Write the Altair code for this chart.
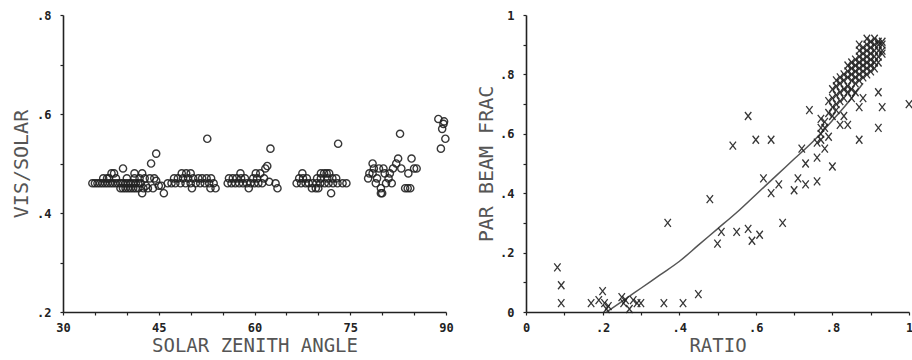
import altair as alt
import pandas as pd

# ---------------- Left panel: VIS/SOLAR vs SOLAR ZENITH ANGLE ----------------
sza = [
    # cluster 1
    34.6, 35.0, 35.4, 35.8, 36.2, 36.6, 37.0, 37.4, 37.8, 38.2, 38.6, 39.0, 39.4, 39.8, 40.2, 40.6, 41.0, 41.4, 41.8, 42.2,
    39.0, 39.4, 39.8, 40.2, 40.6, 41.0, 41.4, 41.8, 42.6, 44.1, 43.3,
    36.3, 36.9, 37.2, 38.3, 40.0, 41.2, 42.0, 42.8, 43.6, 44.3,
    37.6, 38.0, 41.2, 42.4,
    39.4, 43.8, 44.6, 42.4, 45.8, 43.0, 45.0, 45.4, 44.6,
    # cluster 2
    46.4, 47.0, 47.6, 48.4, 49.2, 50.0, 50.8, 51.5, 52.2, 52.9, 53.6,
    47.4, 48.0, 48.8, 49.6, 50.4, 51.2, 51.8, 52.5, 53.2,
    48.6, 49.3, 50.0,
    50.2, 53.1, 53.9, 52.6,
    # cluster 3
    55.8, 56.4, 57.0, 57.6, 58.2, 58.8, 59.4, 60.0, 60.6, 61.2,
    56.0, 56.6, 57.2, 57.9, 58.5, 59.8, 60.4, 61.5,
    57.8, 60.2, 60.9, 61.7,
    59.1, 63.6, 62.0, 62.3, 63.3, 62.5,
    # cluster 4
    66.6, 67.3, 68.0, 68.5, 69.1, 69.7, 70.3, 71.0, 71.6, 72.3, 73.0, 73.8, 74.4,
    67.0, 67.6, 68.2, 69.8, 70.4, 71.4, 72.2, 72.8,
    67.5, 70.4, 70.9, 71.3, 71.7,
    69.0, 69.6, 70.0, 72.0, 73.1,
    # cluster 5
    77.8, 78.0, 78.5, 78.5, 79.0, 79.2, 79.5, 79.8, 79.8, 80.0, 80.4, 80.6, 81.0, 81.2, 81.7,
    82.2, 82.5, 83.0, 83.6, 84.0, 84.4, 84.1, 84.6, 85.4, 85.0, 82.8, 78.7, 80.2, 81.5,
    # cluster 6
    88.8, 89.6, 89.4, 89.9, 89.2, 89.7,
]
vis = [
    0.46, 0.46, 0.46, 0.46, 0.46, 0.46, 0.46, 0.46, 0.46, 0.46, 0.46, 0.46, 0.46, 0.46, 0.46, 0.46, 0.46, 0.46, 0.46, 0.46,
    0.45, 0.45, 0.45, 0.45, 0.45, 0.45, 0.45, 0.45, 0.45, 0.45, 0.45,
    0.47, 0.47, 0.47, 0.47, 0.47, 0.47, 0.47, 0.47, 0.47, 0.47,
    0.48, 0.48, 0.48, 0.48,
    0.49, 0.50, 0.52, 0.44, 0.44, 0.455, 0.455, 0.455, 0.465,
    0.46, 0.46, 0.46, 0.46, 0.46, 0.46, 0.46, 0.46, 0.46, 0.46, 0.46,
    0.47, 0.47, 0.47, 0.47, 0.47, 0.47, 0.47, 0.47, 0.47,
    0.48, 0.48, 0.48,
    0.45, 0.45, 0.45, 0.55,
    0.46, 0.46, 0.46, 0.46, 0.46, 0.46, 0.46, 0.46, 0.46, 0.46,
    0.47, 0.47, 0.47, 0.47, 0.47, 0.47, 0.47, 0.47,
    0.48, 0.48, 0.48, 0.49,
    0.45, 0.45, 0.495, 0.463, 0.46, 0.53,
    0.46, 0.46, 0.46, 0.46, 0.46, 0.46, 0.46, 0.46, 0.46, 0.46, 0.46, 0.46, 0.46,
    0.47, 0.47, 0.47, 0.47, 0.47, 0.47, 0.47, 0.47,
    0.48, 0.48, 0.48, 0.48, 0.48,
    0.45, 0.45, 0.45, 0.44, 0.54,
    0.47, 0.48, 0.50, 0.48, 0.46, 0.47, 0.49, 0.45, 0.44, 0.44, 0.48, 0.46, 0.47, 0.48, 0.49,
    0.50, 0.51, 0.49, 0.45, 0.45, 0.45, 0.48, 0.51, 0.49, 0.49, 0.56, 0.49, 0.49, 0.46,
    0.59, 0.58, 0.57, 0.55, 0.53, 0.585,
]

# ---------------- Right panel: PAR BEAM FRAC vs RATIO ----------------
ratio = [
    0.082, 0.092, 0.092, 0.17, 0.19, 0.20, 0.205, 0.21, 0.215, 0.25, 0.255, 0.26, 0.27, 0.28, 0.29, 0.30,
    0.36, 0.37, 0.41, 0.45, 0.48, 0.50, 0.51, 0.54, 0.55, 0.58, 0.58, 0.59, 0.60, 0.61, 0.62, 0.64, 0.64,
    0.66, 0.67, 0.70, 0.71, 0.72, 0.73, 0.73, 0.74, 0.76, 0.76, 0.77, 0.77, 0.77, 0.78, 0.79, 0.80,
    0.81, 0.82, 0.83, 0.84, 0.87, 0.87, 0.92, 0.92, 0.93, 1.0,
    0.77, 0.78, 0.79, 0.80, 0.79, 0.76, 0.78, 0.80, 0.81,
    0.80, 0.80, 0.81, 0.81, 0.81, 0.82, 0.82, 0.82, 0.82, 0.83, 0.83, 0.83, 0.83,
    0.84, 0.84, 0.84, 0.84, 0.84, 0.85, 0.85, 0.85, 0.85, 0.85, 0.85,
    0.86, 0.86, 0.86, 0.86, 0.86, 0.86, 0.87, 0.87, 0.87, 0.87, 0.87, 0.87,
    0.88, 0.88, 0.88, 0.88, 0.88, 0.88, 0.88, 0.89, 0.89, 0.89, 0.89, 0.89, 0.89,
    0.90, 0.90, 0.90, 0.90, 0.90, 0.90, 0.91, 0.91, 0.91, 0.91, 0.91,
    0.92, 0.92, 0.92, 0.92, 0.92, 0.93, 0.93, 0.93, 0.93, 0.91, 0.89, 0.87,
]
par_beam = [
    0.15, 0.09, 0.03, 0.03, 0.04, 0.07, 0.03, 0.01, 0.02, 0.05, 0.03, 0.04, 0.01, 0.04, 0.03, 0.03,
    0.03, 0.30, 0.03, 0.06, 0.38, 0.23, 0.27, 0.56, 0.27, 0.66, 0.28, 0.24, 0.58, 0.26, 0.45, 0.58, 0.40,
    0.43, 0.30, 0.41, 0.45, 0.55, 0.43, 0.50, 0.68, 0.44, 0.52, 0.62, 0.65, 0.58, 0.55, 0.59, 0.49,
    0.70, 0.63, 0.66, 0.63, 0.58, 0.69, 0.74, 0.62, 0.69, 0.70,
    0.60, 0.64, 0.67, 0.69, 0.71, 0.57, 0.62, 0.66, 0.68,
    0.72, 0.75, 0.73, 0.76, 0.78, 0.74, 0.77, 0.79, 0.71, 0.75, 0.78, 0.80, 0.72,
    0.76, 0.79, 0.81, 0.74, 0.83, 0.78, 0.80, 0.82, 0.84, 0.75, 0.72,
    0.79, 0.81, 0.83, 0.85, 0.77, 0.74, 0.80, 0.82, 0.84, 0.86, 0.78, 0.88,
    0.81, 0.83, 0.85, 0.87, 0.89, 0.79, 0.72, 0.82, 0.84, 0.86, 0.88, 0.90, 0.80,
    0.83, 0.85, 0.87, 0.89, 0.91, 0.81, 0.84, 0.86, 0.88, 0.90, 0.82,
    0.86, 0.88, 0.90, 0.91, 0.84, 0.88, 0.90, 0.91, 0.87, 0.92, 0.92, 0.90,
]

# fitted curve
fit_ratio = [0.21, 0.25, 0.30, 0.35, 0.40, 0.45, 0.50, 0.55, 0.60, 0.65, 0.70, 0.75, 0.80, 0.85, 0.88]
fit_beam = [0.0, 0.035, 0.08, 0.125, 0.17, 0.225, 0.28, 0.335, 0.395, 0.455, 0.515, 0.575, 0.645, 0.72, 0.77]

left_df = pd.DataFrame({"sza": sza, "vis": vis})
right_df = pd.DataFrame({"ratio": ratio, "beam": par_beam})
fit_df = pd.DataFrame({"ratio": fit_ratio, "beam": fit_beam})

MONO = "DejaVu Sans Mono"
INK = "#222222"

axis_common = dict(
    grid=False, domainColor=INK, domainWidth=1.6, tickColor=INK, tickSize=3, tickWidth=1.2,
    labelFont=MONO, labelFontSize=12, labelFontWeight="bold", labelColor=INK,
    titleFont=MONO, titleFontWeight="normal", titleColor="#555555",
)

left_x_axis = alt.Axis(
    title="SOLAR ZENITH ANGLE", values=list(range(30, 91, 5)),
    labelExpr="datum.value % 15 == 0 ? datum.label : ''",
    labelPadding=7, titlePadding=3, titleFontSize=19, labelFlush=False, **axis_common,
)
left_y_axis = alt.Axis(
    title="VIS/SOLAR", values=[0.2, 0.3, 0.4, 0.5, 0.6, 0.7, 0.8],
    labelExpr="round(datum.value*10) % 2 == 0 ? replace(format(datum.value, '.1f'), '0.', '.') : ''",
    labelPadding=9, titlePadding=5, titleFontSize=20, labelFlush=False, **axis_common,
)

left = alt.Chart(left_df).mark_point(
    shape="circle", filled=False, size=52, strokeWidth=1.4, color=INK, opacity=0.9
).encode(
    x=alt.X("sza:Q", scale=alt.Scale(domain=[30, 90], nice=False, zero=False), axis=left_x_axis),
    y=alt.Y("vis:Q", scale=alt.Scale(domain=[0.2, 0.8], nice=False, zero=False), axis=left_y_axis),
).properties(width=383, height=297)

tenths = [round(i / 10, 1) for i in range(0, 11)]
right_label = ("datum.value == 0 ? '0' : datum.value == 1 ? '1' : "
               "(round(datum.value*10) % 2 == 0 ? replace(format(datum.value, '.1f'), '0.', '.') : '')")
right_x_axis = alt.Axis(title="RATIO", values=tenths, labelExpr=right_label,
                        labelPadding=7, titlePadding=3, titleFontSize=19, labelFlush=False, **axis_common)
right_y_axis = alt.Axis(title="PAR BEAM FRAC", values=tenths, labelExpr=right_label,
                        labelPadding=9, titlePadding=3, titleFontSize=20, labelFlush=False, **axis_common)

xs = alt.Scale(domain=[0, 1], nice=False)
ys = alt.Scale(domain=[0, 1], nice=False)

right_pts = alt.Chart(right_df).mark_point(
    shape="M-0.8,-1L0.8,1M0.8,-1L-0.8,1", filled=False, size=64, strokeWidth=1.3, color=INK, opacity=0.9
).encode(
    x=alt.X("ratio:Q", scale=xs, axis=right_x_axis),
    y=alt.Y("beam:Q", scale=ys, axis=right_y_axis),
)
right_line = alt.Chart(fit_df).mark_line(color="#555555", strokeWidth=1.5, interpolate="monotone").encode(
    x=alt.X("ratio:Q", scale=xs, axis=right_x_axis),
    y=alt.Y("beam:Q", scale=ys, axis=right_y_axis),
)
right = alt.layer(right_line, right_pts).properties(width=383, height=297)

chart = alt.hconcat(left, right, spacing=22).configure_view(stroke=None).properties(
    padding={"left": 11, "top": 9, "right": -3, "bottom": 0},
    background="white",
)

chart.save("out.html", embed_options={"renderer": "svg", "actions": False})
